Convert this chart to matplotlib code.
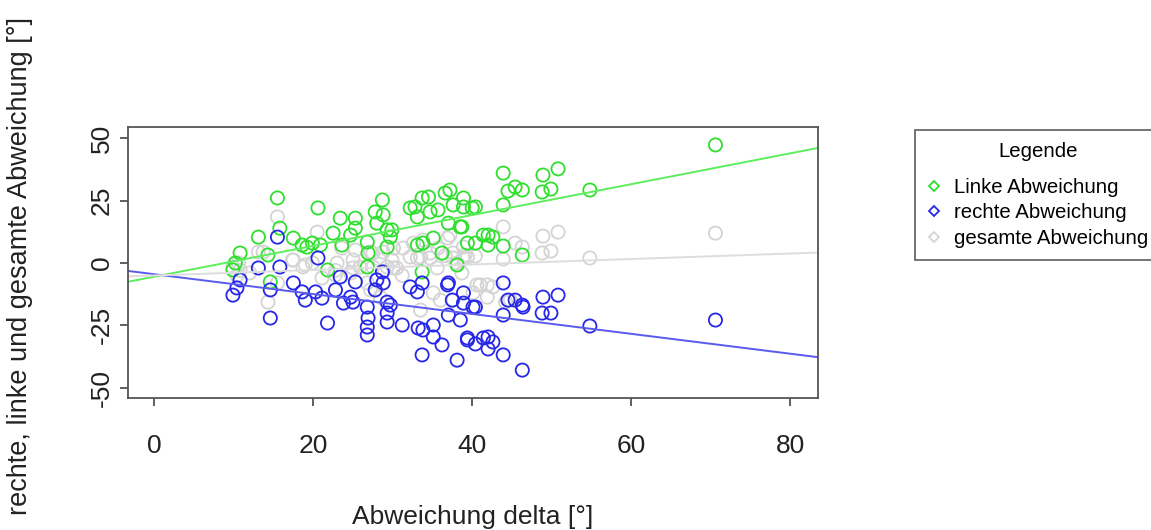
import numpy as np
import matplotlib
matplotlib.use("Agg")
import matplotlib.pyplot as plt
from matplotlib.lines import Line2D

plt.rcParams['font.family'] = ['Liberation Sans', 'DejaVu Sans']

# Linke Abweichung (delta, wert)
links_x = [15.5, 20.6, 10.8, 10.2, 9.9, 13.1, 14.3, 14.6, 15.8, 17.5, 18.6, 19.2, 19.9, 20.9,
           21.8, 22.5, 23.4, 23.6, 24.7, 25.3, 25.3, 26.8, 26.9, 26.8, 27.8, 28.0, 28.7, 28.8,
           29.3, 29.9, 29.3, 29.7, 32.2, 32.8, 33.7, 34.5, 33.1, 34.7, 35.7, 33.1, 33.8, 35.1,
           33.7, 36.6, 37.2, 37.6, 38.9, 37.0, 38.5, 36.2, 38.1, 39.4, 40.0, 70.6, 50.8, 48.9,
           43.9, 48.8, 49.9, 54.8, 44.5, 45.4, 46.3, 43.9, 38.9, 40.4, 38.7, 40.4, 41.4, 42.0,
           42.6, 42.0, 43.9, 46.3]
links_y = [26.1, 22.1, 4.0, 0.0, -2.8, 10.4, 3.2, -7.6, 14.0, 10.0, 7.2, 6.4, 8.0, 7.2,
           -2.8, 12.0, 18.0, 7.2, 11.2, 18.0, 14.0, 8.4, 4.0, -1.6, 20.5, 16.0, 25.3, 19.3,
           13.3, 13.3, 6.4, 10.4, 22.1, 22.5, 26.1, 26.5, 18.5, 20.5, 21.3, 7.2, 8.0, 10.0,
           -3.6, 28.1, 29.3, 23.3, 26.1, 16.0, 14.5, 4.0, -0.8, 8.0, 22.1, 47.4, 37.8, 35.3,
           36.1, 28.5, 29.7, 29.3, 28.9, 30.5, 29.3, 23.3, 22.5, 22.5, 14.5, 8.0, 11.2, 11.2,
           10.4, 7.2, 6.8, 3.2]

# rechte Abweichung
rechts_x = [15.5, 9.9, 10.4, 10.8, 13.1, 14.6, 14.6, 15.8, 17.5, 18.6, 19.0, 20.3, 20.6, 21.1,
            21.8, 22.8, 23.4, 23.8, 24.7, 25.0, 25.3, 26.8, 26.9, 26.8, 26.8, 27.8, 28.0, 28.7,
            28.8, 29.3, 29.7, 29.3, 29.3, 31.2, 32.2, 33.1, 33.7, 33.2, 33.8, 33.7, 35.1, 35.1,
            36.2, 36.9, 37.0, 37.5, 37.0, 38.5, 38.1, 38.9, 39.4, 40.1, 70.6, 54.8, 50.8, 48.9,
            48.8, 49.9, 43.9, 43.9, 43.9, 44.5, 45.4, 46.3, 46.4, 46.3, 38.9, 40.4, 39.4, 40.4,
            41.4, 42.0, 42.6, 42.0]
rechts_y = [10.4, -12.9, -10.0, -6.8, -2.0, -10.8, -22.1, -1.6, -8.0, -11.6, -14.9, -11.6, 2.0, -14.1,
            -24.1, -10.8, -5.6, -16.1, -13.7, -15.7, -7.6, -17.7, -22.1, -25.7, -28.9, -10.8, -6.8, -3.6,
            -8.0, -15.7, -16.9, -20.1, -23.7, -24.9, -9.6, -11.6, -8.0, -26.1, -26.9, -36.9, -24.9, -29.7,
            -32.9, -8.8, -8.0, -14.9, -20.9, -22.9, -39.0, -12.0, -30.1, -17.7, -22.9, -25.3, -12.9, -13.7,
            -20.1, -20.1, -8.0, -20.9, -36.9, -14.9, -14.9, -16.9, -17.7, -43.0, -16.1, -17.7, -30.9, -32.5,
            -30.1, -29.7, -31.7, -34.5]

# gesamte Abweichung
gesamt_x = [70.6, 54.8, 50.8, 48.9, 48.8, 49.9, 43.9, 43.9, 45.4, 46.3, 38.9, 40.4, 39.1, 41.0,
            41.9, 42.6, 41.9, 40.1, 44.2, 44.8, 38.7, 15.5, 13.7, 9.9, 14.3, 15.5, 20.5, 17.5,
            18.7, 19.9, 23.0, 25.0, 25.9, 27.5, 28.4, 29.3, 29.9, 27.8, 28.4, 27.5, 28.8, 32.6,
            33.8, 32.2, 33.5, 37.2, 37.6, 38.1, 39.4, 33.5, 35.1, 40.6, 36.0, 37.6, 10.4, 10.8,
            21.1, 22.8, 24.7, 26.8, 30.5, 31.2, 34.7, 35.7, 36.6, 12.0, 25.3, 27.2, 30.1, 31.3,
            33.1, 34.7, 36.9, 37.6, 38.9, 25.0, 30.1, 35.6, 27.2, 13.1, 17.4, 19.0, 22.8, 23.6,
            10.6]
gesamt_y = [12.0, 2.0, 12.4, 10.8, 4.0, 4.8, 14.5, 1.6, 8.0, 6.4, 6.4, 2.8, 3.2, -8.8,
            -8.8, -9.6, -13.7, -12.0, -15.7, -14.9, -4.0, 18.5, 4.4, -1.6, -15.7, -8.0, 12.4, 1.2,
            -1.6, 0.0, 0.0, 1.2, -1.6, -1.6, 1.2, -1.6, 1.2, -10.8, -13.7, 4.0, 4.4, 8.0,
            9.2, 2.4, 2.4, 11.2, 4.0, 0.0, 2.4, -18.9, -12.0, -8.8, -14.9, -14.9, -5.0, -3.0,
            -6.0, -3.0, -4.0, -8.0, -2.0, -5.0, 4.0, 6.0, 3.0, -4.0, 5.2, 4.4, 6.0, 6.0,
            2.0, 2.0, 10.0, 2.0, 2.0, -2.0, -2.0, -2.0, -10.8, 4.4, 1.2, -0.8, -4.8, 6.0,
            0.0]

# Regressionsgeraden (Achsenabschnitt, Steigung)
fit_links = (-5.5, 0.619)
fit_rechts = (-4.5, -0.399)
fit_gesamt = (-5.0, 0.110)

col_links = '#2EDF2E'
col_rechts = '#2626E8'
col_gesamt = '#D4D4D4'

W, H = 1151, 530
fig = plt.figure(figsize=(W / 100, H / 100), dpi=100)
ax = fig.add_axes([128 / W, 1 - 398 / H, 690 / W, 271 / H])

ms = 90
ax.scatter(gesamt_x, gesamt_y, s=ms, facecolors='none', edgecolors=col_gesamt, linewidths=1.3)
ax.scatter(links_x, links_y, s=ms, facecolors='none', edgecolors=col_links, linewidths=1.3)
ax.scatter(rechts_x, rechts_y, s=ms, facecolors='none', edgecolors=col_rechts, linewidths=1.3)

for (b, m), c in [(fit_links, '#5CEE5C'), (fit_rechts, '#5A5AEE'), (fit_gesamt, '#DDDDDD')]:
    ax.axline((0, b), slope=m, color=c, lw=1.4)

ax.set_xlim(-3.3, 83.5)
ax.set_ylim(-54.2, 54.6)
ax.set_xticks([0, 20, 40, 60, 80])
ax.set_yticks([-50, -25, 0, 25, 50])
ax.set_yticklabels(['-50', '-25', '0', '25', '50'], rotation=90, va='center')
ax.tick_params(axis='both', length=6, width=1.1, colors='#333333', labelcolor='#222222',
               labelsize=19)
ax.tick_params(axis='x', pad=20)
ax.tick_params(axis='y', pad=4)
for sp in ax.spines.values():
    sp.set_color('#555555')
    sp.set_linewidth(1.3)

ax.set_xlabel('Abweichung delta [°]', fontsize=19, color='#222222', labelpad=34)
fig.text(20 / W, 1 - 266 / H, 'rechte, linke und gesamte Abweichung [°]', rotation=90,
         ha='center', va='center', fontsize=19.5, color='#222222')

handles = [Line2D([], [], marker='D', ls='none', markersize=5, markerfacecolor='none',
                  markeredgecolor=c, markeredgewidth=1.3)
           for c in (col_links, col_rechts, col_gesamt)]
leg = fig.legend(handles, ['Linke Abweichung', 'rechte Abweichung', 'gesamte Abweichung'],
                 title='Legende', loc='upper left', bbox_to_anchor=(915 / W, 1 - 130 / H),
                 frameon=True, fancybox=False, fontsize=14.7, title_fontsize=14.7,
                 handlelength=0.7, handletextpad=0.6, borderpad=0.6, labelspacing=0.32,
                 borderaxespad=0)
leg._legend_box.sep = 12
leg.get_frame().set_edgecolor('#333333')
leg.get_frame().set_linewidth(1.2)

fig.savefig('out.png', dpi=100)
